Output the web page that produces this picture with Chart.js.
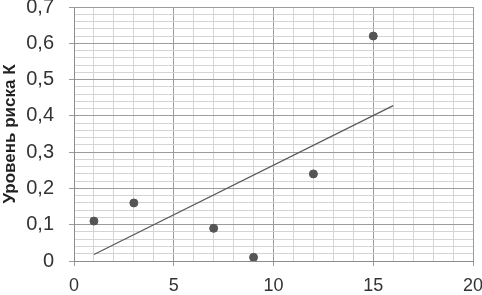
<!DOCTYPE html>
<html>
<head>
<meta charset="utf-8">
<script src="https://cdn.jsdelivr.net/npm/chart.js@4"></script>
<style>
  body { margin: 0; background: #fff; }
  #wrap { width: 482px; height: 295px; }
</style>
</head>
<body>
<div id="wrap"><canvas id="chart" width="482" height="295"></canvas></div>
<script>
// data
const pointsX = [1, 3, 7, 9, 12, 15];
const pointsY = [0.11, 0.16, 0.09, 0.01, 0.24, 0.62];
// linear trend line ends
const trendX = [1, 16];
const trendY = [0.018, 0.428];
const yTitle = 'Уровень риска К';

const isMajorX = v => Math.abs(v % 5) < 1e-6;
const isMajorY = v => Math.abs(v * 10 - Math.round(v * 10)) < 1e-6;

function fmtY(v) {
  if (Math.abs(v) < 1e-9) return '0';
  return v.toFixed(1).replace('.', ',');
}

new Chart(document.getElementById('chart'), {
  type: 'scatter',
  data: {
    datasets: [
      {
        data: pointsX.map((x, i) => ({x: x, y: pointsY[i]})),
        backgroundColor: '#555555',
        borderColor: '#555555',
        pointRadius: 4,
        pointHoverRadius: 4
      },
      {
        data: trendX.map((x, i) => ({x: x, y: trendY[i]})),
        showLine: true,
        borderColor: '#5a5a5a',
        borderWidth: 1.3,
        pointRadius: 0,
        pointHoverRadius: 0
      }
    ]
  },
  options: {
    responsive: false,
    animation: false,
    layout: { padding: { top: 7, right: 9, left: 0, bottom: 0 } },
    plugins: { legend: { display: false }, tooltip: { enabled: false } },
    scales: {
      x: {
        type: 'linear',
        min: 0,
        max: 20,
        afterFit(scale) {
          scale.height = 34;
          scale.paddingLeft = 0;
          scale.paddingRight = 0;
        },
        ticks: {
          stepSize: 1,
          autoSkip: false,
          maxRotation: 0,
          padding: 9,
          color: '#333',
          font: { family: 'Liberation Sans', size: 18 },
          callback: v => isMajorX(v) ? String(v) : ''
        },
        grid: {
          tickLength: 5,
          color: c => isMajorX(c.tick.value) ? '#9c9c9c' : '#d4d4d4',
          tickColor: c => isMajorX(c.tick.value) ? '#9c9c9c' : 'rgba(0,0,0,0)'
        },
        border: { color: '#8c8c8c' }
      },
      y: {
        min: 0,
        max: 0.7,
        afterFit(scale) {
          scale.width = 74;
          scale.paddingTop = 0;
          scale.paddingBottom = 0;
        },
        ticks: {
          stepSize: 0.02,
          autoSkip: false,
          padding: 15,
          color: '#333',
          font: { family: 'Liberation Sans', size: 20 },
          callback: v => isMajorY(v) ? fmtY(v) : ''
        },
        grid: {
          tickLength: 5,
          color: c => isMajorY(c.tick.value) ? '#9c9c9c' : '#d4d4d4',
          tickColor: c => isMajorY(c.tick.value) ? '#9c9c9c' : 'rgba(0,0,0,0)'
        },
        border: { color: '#8c8c8c' },
        title: {
          display: true,
          text: yTitle,
          color: '#222',
          padding: 0,
          font: { family: 'Liberation Sans', size: 17, weight: 'bold' }
        }
      }
    }
  }
});
</script>
</body>
</html>
